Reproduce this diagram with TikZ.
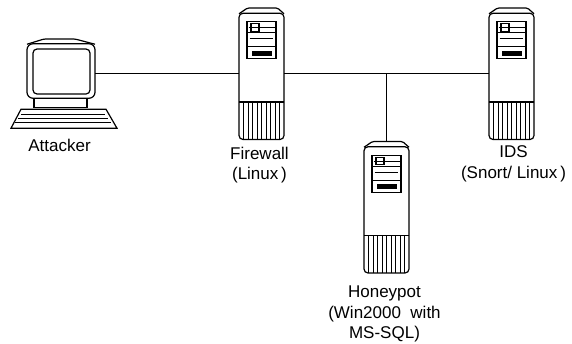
\documentclass[tikz,border=0pt]{standalone}
\usepackage{fontspec}
\setmainfont{Liberation Sans}
\usetikzlibrary{positioning}
\tikzset{
    hostbox/.style={rectangle, minimum width=45pt, minimum height=131.5pt, inner sep=0pt, outer sep=0pt},
    pcbox/.style={rectangle, minimum width=68pt, minimum height=68pt, inner sep=0pt, outer sep=0pt},
    hostlabel/.style={align=center, inner sep=0pt, font=\fontsize{17}{20.6}\selectfont},
    wire/.style={line width=1.2pt},
}
\newcommand{\drawserver}[1]{%
    \begin{scope}[shift={(#1.center)}, line width=1.2pt]
        \draw[rounded corners=1.5pt] (-22.5,-60) -- (-14,-65.75) -- (16,-65.75) -- (22.5,-60);
        \draw[rounded corners=4pt] (-22.5,-60.5) -- (-22.5,65.75) -- (22.5,65.75) -- (22.5,-60.5) -- cycle;
        \draw (-22.5,28.25) -- (22.5,28.25);
        \foreach \tx in {-18,-13.5,...,18}
            \draw[line width=0.9pt] (\tx,28.25) -- (\tx,65.75);
        \draw (-14.5,-52) rectangle (14.5,-15);
        \draw (-14.5,-41) -- (14.5,-41);
        \draw (-14.5,-27) -- (14.5,-27);
        \draw (-10.5,-50) rectangle (-2.5,-42.5);
        \draw[line width=0.9pt] (-13,-46) -- (13,-46);
        \draw[line width=0.9pt] (-12,-35) -- (11,-35);
        \fill (-10,-23) rectangle (10,-18);
    \end{scope}%
}
\begin{document}
\begin{tikzpicture}[x=1pt, y=-1pt]
    \useasboundingbox (0,0) rectangle (572,343);
    \node[pcbox] (attacker) at (61,73.75) {};
    \node[hostbox] (firewall) at (261.5,73.75) {};
    \node[hostbox] (ids) at (511.5,73.75) {};
    \node[hostbox] (honeypot) at (386.5,207.25) {};
    \coordinate (tap) at (firewall -| honeypot);
    % links
    \draw[wire] (attacker) -- (firewall);
    \draw[wire] (firewall) -- (ids);
    \draw[wire] (tap) -- (honeypot);
    % towers
    \drawserver{firewall}
    \drawserver{ids}
    \drawserver{honeypot}
    % terminal
    \begin{scope}[shift={(attacker.center)}, line width=1.2pt]
        \draw[rounded corners=1.5pt] (-34,-29.5) -- (-17,-34.75) -- (14,-34.75) -- (34,-29.5);
        \draw[rounded corners=6pt] (-34,-30) rectangle (34,24.5);
        \draw[rounded corners=4pt] (-28,-24.75) rectangle (29,20.25);
        \draw (-27,24.5) rectangle (26,33.5);
        \draw (-40,35.5) -- (45,35.5) -- (56,54.5) -- (-50,54.5) -- cycle;
        \draw[line width=0.9pt] (-40,40.5) -- (44,40.5);
        \draw[line width=0.9pt] (-43,44.5) -- (47,44.5);
        \draw[line width=0.9pt] (-46,48.5) -- (50,48.5);
    \end{scope}
    % labels
    \node[hostlabel, below=31pt of attacker, xshift=-1.5pt] (attackerlabel) {Attacker};
    \node[hostlabel, below=7pt of firewall, xshift=-2pt] (firewalllabel) {Firewall\\(Linux\,)};
    \node[hostlabel, below=6pt of ids, xshift=2pt] (idslabel) {IDS\\(Snort/ Linux\,)};
    \node[hostlabel, below=12.5pt of honeypot, xshift=-2pt] (honeypotlabel) {Honeypot\\(Win2000~ with\\MS-SQL)};
\end{tikzpicture}
\end{document}
